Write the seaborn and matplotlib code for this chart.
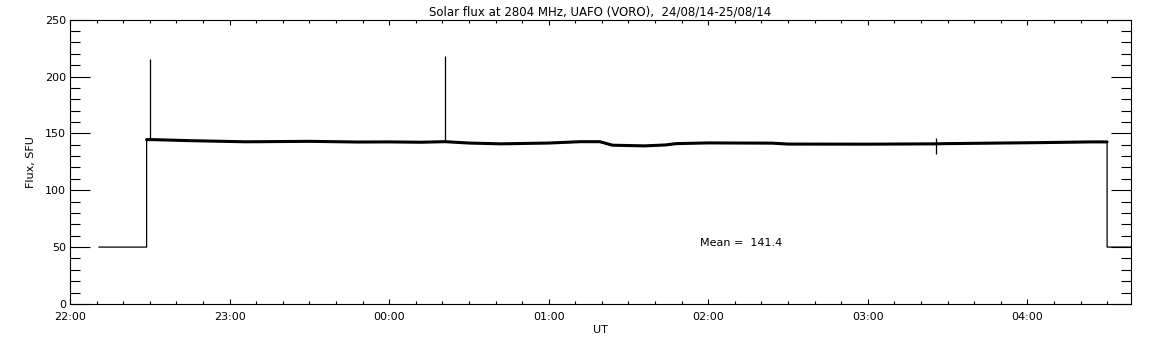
import numpy as np
import pandas as pd
import matplotlib
matplotlib.use("Agg")
import matplotlib.pyplot as plt
from matplotlib.ticker import MultipleLocator, FuncFormatter
import seaborn as sns

# time in hours since 00:00 of 24/08 (values > 24 are on 25/08)
trace_hours = [22.18, 22.48, 22.48, 22.52, 22.75, 23.10, 23.30, 23.50, 23.80,
               24.00, 24.20, 24.35, 24.50, 24.70, 25.00, 25.20, 25.32, 25.40,
               25.60, 25.73, 25.80, 26.00, 26.40, 26.50, 27.00, 27.42, 27.50,
               28.10, 28.40, 28.50, 28.50, 28.66]
trace_flux = [50.0, 50.0, 144.5, 144.5, 143.6, 142.6, 142.8, 143.0, 142.4,
              142.5, 142.2, 142.7, 141.5, 140.8, 141.5, 142.7, 142.7, 139.6,
              139.0, 139.8, 141.0, 141.6, 141.4, 140.6, 140.5, 140.8, 141.0,
              141.9, 142.5, 142.5, 50.0, 50.0]

spike_hours = [22.50, 24.352, 27.427]
spike_low = [144.5, 142.7, 131.6]
spike_high = [215.0, 218.0, 145.7]

mean_flux = 141.4
title = "Solar flux at 2804 MHz, UAFO (VORO),  24/08/14-25/08/14"

df = pd.DataFrame({"hour": trace_hours, "flux": trace_flux})
plateau = df.iloc[2:30]

sns.set_style("ticks")
plt.rcParams["font.family"] = ["DejaVu Sans"]
plt.rcParams["font.size"] = 8
plt.rcParams["text.color"] = "black"
plt.rcParams["axes.labelcolor"] = "black"
plt.rcParams["xtick.color"] = "black"
plt.rcParams["ytick.color"] = "black"
plt.rcParams["axes.edgecolor"] = "black"

fig = plt.figure(figsize=(11.52, 3.45), dpi=100)
ax = fig.add_axes([0.0608, 0.119, 0.921, 0.824])

sns.lineplot(data=df, x="hour", y="flux", sort=False, estimator=None,
             color="black", linewidth=0.9, ax=ax)
sns.lineplot(data=plateau, x="hour", y="flux", sort=False, estimator=None,
             color="black", linewidth=2.2, ax=ax)
ax.vlines(spike_hours, spike_low, spike_high, color="black", linewidth=0.9)

ax.text(25.95, 53.6, f"Mean =  {mean_flux}", fontsize=8, ha="left", va="center")

ax.set_xlim(22.0, 28.65)
ax.set_ylim(0, 250)
ax.xaxis.set_major_locator(MultipleLocator(1))
ax.xaxis.set_minor_locator(MultipleLocator(1 / 6))
ax.xaxis.set_major_formatter(FuncFormatter(lambda v, p: f"{int(round(v)) % 24:02d}:00"))
ax.yaxis.set_major_locator(MultipleLocator(50))
ax.yaxis.set_minor_locator(MultipleLocator(10))

ax.tick_params(axis="x", which="major", direction="in", length=3.6, width=0.8,
               top=True, bottom=True, labelsize=8, pad=6)
ax.tick_params(axis="x", which="minor", direction="in", length=2.0, width=0.8,
               top=True, bottom=True)
ax.tick_params(axis="y", which="major", direction="in", length=14.4, width=0.8,
               left=True, right=True, labelsize=8, pad=3)
ax.tick_params(axis="y", which="minor", direction="in", length=7.2, width=0.8,
               left=True, right=True)
for s in ax.spines.values():
    s.set_linewidth(0.8)
    s.set_visible(True)

ax.set_xlabel("UT", fontsize=8, labelpad=2)
ax.set_ylabel("Flux, SFU", fontsize=8, labelpad=6)
ax.set_title(title, fontsize=8.5, pad=3)

fig.savefig("out.png", dpi=100)
